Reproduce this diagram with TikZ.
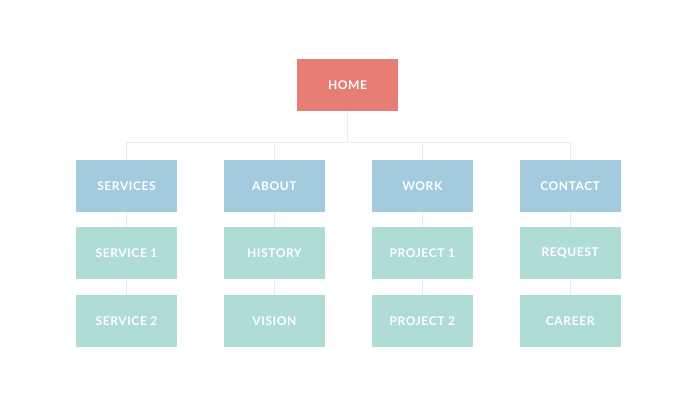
\documentclass[tikz,border=0pt]{standalone}
\usepackage{fontspec}
\newfontfamily\boxfont[LetterSpace=5]{Lato}
\usetikzlibrary{positioning}
\definecolor{homered}{RGB}{232,125,117}
\definecolor{topblue}{RGB}{164,202,222}
\definecolor{subgreen}{RGB}{175,220,213}
\definecolor{linkgray}{RGB}{225,240,242}

\begin{document}
\begin{tikzpicture}[x=1pt,y=1pt,
                    box/.style={minimum width=101pt,minimum height=52pt,inner sep=0pt,
                      text=white,font=\boxfont\bfseries\fontsize{12}{14}\selectfont},
                    home node/.style={box,fill=homered},
                    main node/.style={box,fill=topblue},
                    sub node/.style={box,fill=subgreen},
                    link/.style={draw=linkgray,line width=1pt}]
  \useasboundingbox (0,0) rectangle (696,406);
  \node[home node] (home) at (347.5,321) {HOME};

  \node[main node] (services) at (126.5,220) {SERVICES};
  \node[main node] (about) [right=46.5pt of services] {ABOUT};
  \node[main node] (work) [right=46.5pt of about] {WORK};
  \node[main node] (contact) [right=46.5pt of work] {CONTACT};

  \node[sub node] (service1) [below=15pt of services] {SERVICE 1};
  \node[sub node] (service2) [below=15pt of service1] {SERVICE 2};
  \node[sub node] (history) [below=15pt of about] {HISTORY};
  \node[sub node] (vision) [below=15pt of history] {VISION};
  \node[sub node] (project1) [below=15pt of work] {PROJECT 1};
  \node[sub node] (project2) [below=15pt of project1] {PROJECT 2};
  \node[sub node] (request) [below=15pt of contact] {REQUEST};
  \node[sub node] (career) [below=15pt of request] {CAREER};

  \coordinate (bus) at ([yshift=-31pt]home.south);
  \path[link] (home.south) -- (bus);
  \foreach \n in {services,about,work,contact}
    \path[link] (bus) -| (\n.north);
  \path[link]
    (services) -- (service1) (service1) -- (service2)
    (about) -- (history) (history) -- (vision)
    (work) -- (project1) (project1) -- (project2)
    (contact) -- (request) (request) -- (career);
\end{tikzpicture}
\end{document}
